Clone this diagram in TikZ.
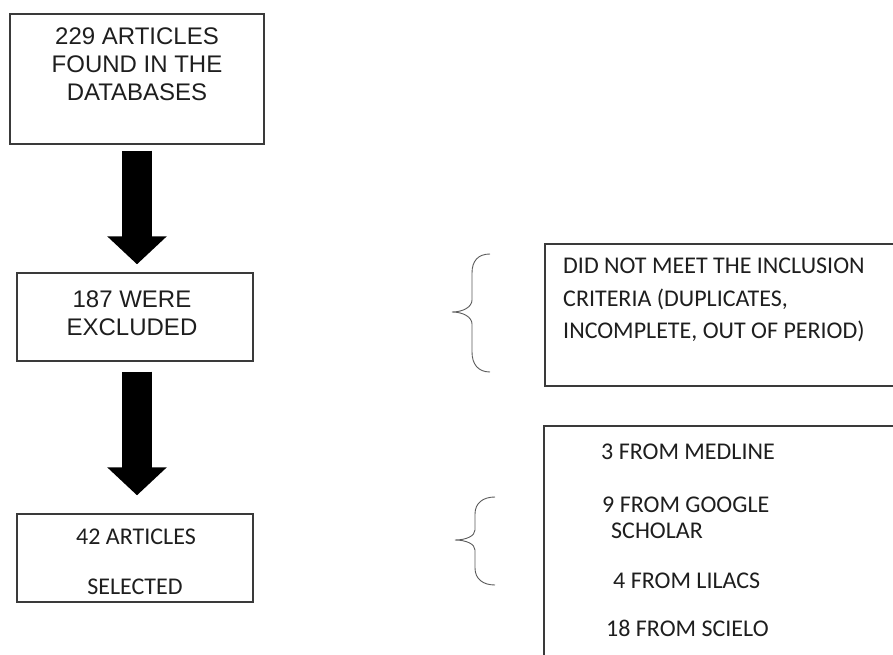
\documentclass[tikz,border=0pt]{standalone}
\usepackage{fontspec}
\newfontfamily\arialfont{Liberation Sans}
\newfontfamily\calfont{Carlito}
\usepackage{tikz}
\usetikzlibrary{positioning,calc,arrows.meta}
\definecolor{boxline}{HTML}{3A3A3A}
\definecolor{bracegray}{HTML}{5A5A5A}
\definecolor{ink}{HTML}{1E1E1E}
\tikzset{box/.style={draw=boxline,line width=1.4pt,inner sep=0pt},
  arialtxt/.style={font=\arialfont\fontsize{24}{28}\selectfont,text=ink,align=center,inner sep=0pt},
  calitxt/.style={font=\calfont\fontsize{24}{32.5}\selectfont,text=ink,align=left,inner sep=0pt},
  blockarrow/.style={line width=30pt,-{Triangle[width=58pt,length=28pt]}},
  brace/.style={draw=bracegray,line width=0.9pt}}

\begin{document}
\begin{tikzpicture}[x=1pt,y=-1pt]
\useasboundingbox (0,0) rectangle (893,655);
\clip (0,0) rectangle (893,655);
\node[box,minimum width=254pt,minimum height=130pt] (found) at (137,79) {};
\node[box,minimum width=236pt,minimum height=88pt] (excl) at (135,317) {};
\node[box,minimum width=236pt,minimum height=88pt] (sel) at (135,558) {};
\node[box,minimum width=360pt,minimum height=142pt] (crit) at (725,315) {};
\node[box,minimum width=360pt,minimum height=264pt] (src) at (724,558) {};
\node[arialtxt,below=14pt of found.north] (foundtxt) {229 ARTICLES\\FOUND IN THE\\DATABASES};
\node[arialtxt,below=18.5pt of excl.north,xshift=-3pt] (excltxt) {187 WERE\\EXCLUDED};
\node[calitxt,anchor=base] (seltxt) at (136,544.5) {42 ARTICLES};
\node[calitxt,anchor=base] (seltxt2) at (135,594) {SELECTED};
\node[calitxt,anchor=north west] (crittxt) at (563,258) {DID NOT MEET THE INCLUSION\\CRITERIA (DUPLICATES,\\INCOMPLETE, OUT OF PERIOD)};
\node[calitxt,anchor=base west] (medline) at (601,459) {3 FROM MEDLINE};
\node[calitxt,anchor=base west] (google) at (602,512) {9 FROM GOOGLE};
\node[calitxt,anchor=base west] (scholar) at (611,538.3) {SCHOLAR};
\node[calitxt,anchor=base west] (lilacs) at (613,588.3) {4 FROM LILACS};
\node[calitxt,anchor=base west] (scielo) at (606,636.7) {18 FROM SCIELO};
\draw[blockarrow,shorten <=6pt,shorten >=8pt] (found.south) -- (found.south |- excl.north);
\draw[blockarrow,shorten <=10pt,shorten >=18pt] (found.south |- excl.south) -- (found.south |- sel.north);
\draw[brace] (490,254) .. controls (478,254) and (472,261) .. (472,273) -- (472,300)
  .. controls (472,307) and (463,312) .. (452,312) .. controls (463,312) and (472,317) .. (472,324)
  -- (472,352) .. controls (472,364) and (478,372) .. (490,372);
\draw[brace] (495,497) .. controls (483,497) and (475,503) .. (475,514) -- (475,530)
  .. controls (475,536) and (466,540) .. (455,540) .. controls (466,540) and (475,544) .. (475,550)
  -- (475,568) .. controls (475,579) and (483,585) .. (495,585);
\end{tikzpicture}
\end{document}
